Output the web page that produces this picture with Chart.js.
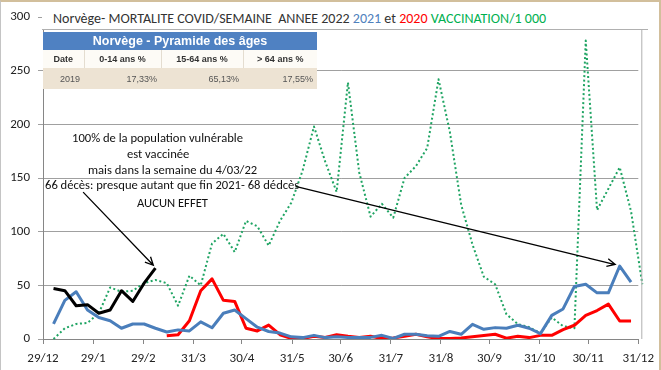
<!DOCTYPE html>
<html>
<head>
<meta charset="utf-8">
<script src="https://cdn.jsdelivr.net/npm/chart.js@4.4.0/dist/chart.umd.min.js"></script>
<style>
  html, body { margin: 0; padding: 0; background: #fff; }
  #wrap {
    position: relative; width: 661px; height: 370px; overflow: hidden;
    box-sizing: border-box; border-top: 2px solid #d2bf9c; border-right: 2px solid #d2bf9c;
    border-left: 1px solid #c4c4c4;
  }
  #chart { position: absolute; left: -1px; top: -2px; }
  .title {
    position: absolute; left: 41px; top: 1px; width: 606px; height: 27px;
    background: #fff; border-bottom: 1px solid #b0b0b0;
    font-family: Carlito, Lato, sans-serif; font-size: 14px; line-height: 32px;
    color: #333; padding-left: 11px; box-sizing: border-box; white-space: nowrap; overflow: hidden;
  }
  .note {
    position: absolute; font-family: Carlito, Lato, sans-serif; font-size: 12.6px;
    line-height: 16px; color: #111; white-space: nowrap;
  }
  table.pyr {
    position: absolute; left: 42px; top: 30px; width: 274px; border-collapse: collapse;
    font-family: "Liberation Sans", Arial, sans-serif; table-layout: fixed;
  }
  table.pyr th.head {
    background: #4f81c2; color: #fff; font-size: 12.5px; font-weight: bold; height: 18px;
    padding: 0; text-align: center;
  }
  table.pyr td { padding: 0 4px; height: 18px; font-size: 9px; }
  table.pyr tr.lab td { background: #fdfbf6; font-weight: bold; color: #333; text-align: center;
    border-left: 1px solid #e4ddd0; }
  table.pyr tr.lab td:first-child { border-left: none; }
  table.pyr tr.val td { background: #ede3d3; color: #555; text-align: right; height: 21px; }
</style>
</head>
<body>
<div id="wrap">
  <canvas id="chart" width="661" height="370"></canvas>
  <div class="title">Norvège- MORTALITE COVID/SEMAINE&nbsp; ANNEE 2022 <span style="color:#4f81bd">2021</span> et <span style="color:#ff0000">2020</span> <span style="color:#00b050">VACCINATION/1 000</span></div>
  <table class="pyr">
    <colgroup><col style="width:41px"><col style="width:77px"><col style="width:82px"><col style="width:74px"></colgroup>
    <tr><th class="head" colspan="4">Norvège - Pyramide des âges</th></tr>
    <tr class="lab"><td>Date</td><td>0-14 ans %</td><td>15-64 ans %</td><td>&gt; 64 ans %</td></tr>
    <tr class="val"><td>2019</td><td>17,33%</td><td>65,13%</td><td>17,55%</td></tr>
  </table>
  <div class="note" style="left:71px;top:128px">100% de la population vulnérable</div>
  <div class="note" style="left:126px;top:144px">est vaccinée</div>
  <div class="note" style="left:87px;top:160px">mais dans la semaine du 4/03/22</div>
  <div class="note" style="left:44px;top:175px">66 décès: presque autant que fin 2021- 68 dédcès</div>
  <div class="note" style="left:136px;top:193px">AUCUN EFFET</div>
</div>
<script>
// weekly points, day 0 = 29/12
const firstWeekDay = 6.5;

// month ticks on the x axis
const monthTickDays = [0, 31, 62, 93, 123, 154, 184, 215, 246, 276, 307, 337, 368];
const monthLabels = ["29/12", "29/1", "29/2", "31/3", "30/4", "31/5", "30/6", "31/7", "31/8", "30/9", "31/10", "30/11", "31/12"];

// deaths per week, 2022 (so far)
const deaths2022 = [47, 45, 31, 32, 24, 27, 45, 35, 52, 66];

// deaths per week, 2021
const deaths2021 = [14, 36, 44, 27, 20, 17, 10, 14, 14, 10,
  6.5, 8.5, 7.5, 16, 10.5, 24, 27, 19, 11, 7,
  5.5, 2, 1.3, 3.4, 1.3, 2, 1.5, 1.3, 1.5, 3.4,
  0.5, 4.4, 4.4, 3, 2.5, 7, 4.4, 13.7, 9, 10.6,
  10, 12.8, 10, 5, 22, 28, 49, 51, 43, 43,
  68, 53];

// deaths per week, 2020 (starts in March)
const deaths2020 = [null, null, null, null, null, null, null, null, null, null,
  3, 4, 17, 45, 56, 36, 35, 10, 7.5, 13,
  4, 0.5, 0.5, 2.5, 1.5, 4, 2.5, 1.5, 2.5, 0.5,
  1, 2.5, 4.4, 2, 0.4, 0.4, 1, 2, 3.2, 4.4,
  0.8, 2.5, 1.3, 3.4, 3.4, 8.8, 12.8, 22, 26.5, 32.5,
  16.8, 16.8];

// vaccination doses per 1000 per week
const vaccination = [0, 10, 14, 15, 24, 48, 44, 45, 52, 55,
  52, 31, 59, 50, 89, 98, 81, 110, 105, 87,
  110, 127, 157, 198, 165, 137, 239, 155, 114, 126,
  113, 150, 161, 178, 242, 193, 125, 88, 58, 51,
  23, 14, 11, 5.5, 20, 12, 10, 278, 120, 140,
  160, 119, 51];

// arrows, in axis units [day, value]
const arrowFrom = [[24.8, 136.8], [156.1, 142.3]];
const arrowTo = [[68.2, 68.7], [353.7, 69.4]];

const toPoints = vals => vals.map((v, i) => ({ x: firstWeekDay + 7 * i, y: v }));

const arrowPlugin = {
  id: "arrows",
  afterDatasetsDraw(chart) {
    const { ctx, scales: { x, y } } = chart;
    ctx.save();
    ctx.strokeStyle = "#000";
    ctx.lineWidth = 1.3;
    arrowFrom.forEach((f, i) => {
      const x1 = x.getPixelForValue(f[0]), y1 = y.getPixelForValue(f[1]);
      const x2 = x.getPixelForValue(arrowTo[i][0]), y2 = y.getPixelForValue(arrowTo[i][1]);
      const a = Math.atan2(y2 - y1, x2 - x1);
      ctx.beginPath();
      ctx.moveTo(x1, y1);
      ctx.lineTo(x2, y2);
      ctx.moveTo(x2 - 9 * Math.cos(a - 0.45), y2 - 9 * Math.sin(a - 0.45));
      ctx.lineTo(x2, y2);
      ctx.lineTo(x2 - 9 * Math.cos(a + 0.45), y2 - 9 * Math.sin(a + 0.45));
      ctx.stroke();
    });
    // plot frame, right side
    const area = chart.chartArea;
    ctx.strokeStyle = "#b0b0b0";
    ctx.lineWidth = 1;
    ctx.beginPath();
    ctx.moveTo(area.right + 3.5, 30);
    ctx.lineTo(area.right + 3.5, area.bottom);
    ctx.stroke();
    ctx.restore();
  }
};

const fontFam = "Carlito, Lato, sans-serif";

new Chart(document.getElementById("chart"), {
  type: "line",
  data: {
    datasets: [
      { label: "2022", data: toPoints(deaths2022), borderColor: "#000", borderWidth: 3 },
      { label: "2021", data: toPoints(deaths2021), borderColor: "#4a7ebb", borderWidth: 3 },
      { label: "2020", data: toPoints(deaths2020), borderColor: "#ff0000", borderWidth: 3 },
      { label: "Vaccination/1000", data: toPoints(vaccination), borderColor: "#1fa463",
        borderWidth: 2, borderDash: [2, 2.5], clip: false }
    ]
  },
  options: {
    responsive: false,
    animation: false,
    elements: { point: { radius: 0 }, line: { tension: 0, borderJoinStyle: "round" } },
    layout: { padding: { left: 0, top: 17, right: 16, bottom: 0 } },
    plugins: { legend: { display: false }, tooltip: { enabled: false } },
    scales: {
      x: {
        type: "linear", min: 0, max: 368,
        afterBuildTicks: s => { s.ticks = monthTickDays.map(v => ({ value: v })); },
        afterFit: s => { s.height = 31; },
        ticks: {
          autoSkip: false, maxRotation: 0, padding: 7, color: "#222",
          font: { family: fontFam, size: 13 },
          callback: (v, i) => monthLabels[i]
        },
        grid: { drawOnChartArea: false, tickLength: 5, color: "#868686" },
        border: { color: "#868686" }
      },
      y: {
        min: 0, max: 300,
        afterFit: s => { s.width = 43; },
        ticks: { stepSize: 50, padding: 8, color: "#222", font: { family: fontFam, size: 13 } },
        grid: { color: "#a0a0a0", tickLength: 5 },
        border: { color: "#868686" }
      }
    }
  },
  plugins: [arrowPlugin]
});
</script>
</body>
</html>
